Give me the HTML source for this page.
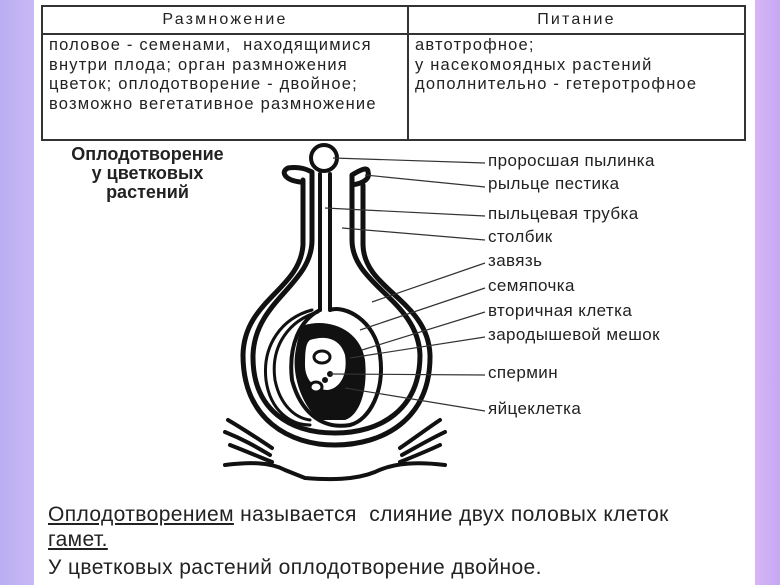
<!DOCTYPE html>
<html><head><meta charset="utf-8"><style>
html,body{margin:0;padding:0;width:780px;height:585px;overflow:hidden}
body{background:linear-gradient(90deg,#b9aef2 0,#c9b8f5 34px,#fff 34px,#fff 755px,#d6b6f5 755px,#c6a8f3 780px);position:relative;font-family:"Liberation Sans","Noto Sans CJK SC",sans-serif;color:#222}
.t{position:absolute;white-space:nowrap}
table{position:absolute;left:41px;top:5px;width:705px;height:136px;border-collapse:collapse;font-size:16.5px;letter-spacing:1.2px}
td{border:2px solid #333;vertical-align:top;padding:1px 6px;line-height:19.5px}
th{border:2px solid #333;font-weight:normal;height:24px;font-size:16px;letter-spacing:2.2px}
.lb{font-size:17px;left:488px;letter-spacing:0.4px}
</style></head><body>
<table><tr><th style="width:362px">Размножение</th><th>Питание</th></tr>
<tr><td>половое - семенами,&nbsp; находящимися<br>внутри плода; орган размножения<br>цветок; оплодотворение - двойное;<br>возможно вегетативное размножение</td><td>автотрофное;<br>у насекомоядных растений<br>дополнительно - гетеротрофное</td></tr></table>
<div class="t" style="left:45px;top:145px;width:205px;text-align:center;font-weight:bold;font-size:18px;line-height:19px">Оплодотворение<br>у цветковых<br>растений</div>
<svg style="position:absolute;left:0;top:0" width="780" height="585">
<g fill="none" stroke="#111" stroke-linecap="round" stroke-linejoin="round">
<path d="M300,182 C285,180 280,172 288,168 C300,166 308,170 312,172 L312,240 C312,285 255,300 253,355 C252,410 290,433 335,433 C380,433 420,410 420,355 C418,300 352,285 352,240 L352,175 C360,170 368,166 368,172 C370,178 365,183 352,185" stroke-width="5"/>
<path d="M303,180 L303,245 C300,290 244,300 243,355 C243,420 290,445 335,445 C382,445 431,420 430,355 C428,300 364,290 363,245 L363,185" stroke-width="5"/>
<path d="M320,174 L320,310 M330,174 L330,310" stroke-width="4"/>
<circle cx="324" cy="158" r="13" stroke-width="4" fill="#fff"/>
<path d="M330,310 C345,305 375,320 380,355 C385,390 370,420 350,425 C320,430 300,410 292,380 C288,345 300,320 320,310" stroke-width="4"/>
<path d="M318,312 C290,320 270,345 275,380 C280,405 295,418 310,420" stroke-width="3"/>
<path d="M312,310 C282,318 262,345 266,380 C270,410 290,425 310,425" stroke-width="3"/>
</g>
<path d="M305,325 C330,318 360,330 365,360 C368,390 360,415 345,420 L320,420 C305,410 292,380 295,355 C297,340 300,330 305,325 Z" fill="#111"/>
<path d="M310,340 C325,335 340,338 345,355 C348,375 340,388 328,390 C315,390 305,380 305,365 C305,350 306,343 310,340 Z" fill="#fff"/>
<ellipse cx="322" cy="357" rx="8" ry="6" fill="none" stroke="#111" stroke-width="3"/>
<circle cx="330" cy="374" r="3" fill="#111"/><circle cx="325" cy="380" r="3" fill="#111"/>
<ellipse cx="316" cy="387" rx="6" ry="5" fill="#fff" stroke="#111" stroke-width="3"/>
<g fill="none" stroke="#111" stroke-width="4" stroke-linecap="round">
<path d="M228,420 C245,430 260,440 272,448 M225,432 C245,440 258,448 270,455 M230,445 C248,452 262,458 272,462"/>
<path d="M440,420 C425,430 412,440 400,448 M445,432 C428,440 415,448 402,455 M440,445 C425,452 410,458 400,462"/>
<path d="M225,465 C250,462 270,462 285,470 L305,478 C330,480 355,480 375,472 C395,462 420,462 445,465"/>
</g>
<g stroke="#333" stroke-width="1.2">
<line x1="333" y1="158" x2="485" y2="163"/>
<line x1="365" y1="175" x2="485" y2="187"/>
<line x1="325" y1="208" x2="485" y2="216"/>
<line x1="342" y1="228" x2="485" y2="240"/>
<line x1="372" y1="302" x2="485" y2="263"/>
<line x1="360" y1="330" x2="485" y2="288"/>
<line x1="362" y1="350" x2="485" y2="312"/>
<line x1="350" y1="358" x2="485" y2="337"/>
<line x1="330" y1="374" x2="485" y2="375"/>
<line x1="345" y1="388" x2="485" y2="411"/>
</g>
</svg>
<div class="t lb" style="top:151px">проросшая пылинка</div>
<div class="t lb" style="top:174px">рыльце пестика</div>
<div class="t lb" style="top:204px">пыльцевая трубка</div>
<div class="t lb" style="top:227px">столбик</div>
<div class="t lb" style="top:251px">завязь</div>
<div class="t lb" style="top:276px">семяпочка</div>
<div class="t lb" style="top:301px">вторичная клетка</div>
<div class="t lb" style="top:325px">зародышевой мешок</div>
<div class="t lb" style="top:363px">спермин</div>
<div class="t lb" style="top:399px">яйцеклетка</div>
<div class="t" style="left:48px;top:502px;font-size:21px;line-height:25px;letter-spacing:0.4px"><u>Оплодотворением</u> называется&nbsp; слияние двух половых клеток<br><u>гамет.</u></div>
<div class="t" style="left:48px;top:556px;font-size:21px;letter-spacing:0.4px">У цветковых растений оплодотворение двойное.</div>
</body></html>
